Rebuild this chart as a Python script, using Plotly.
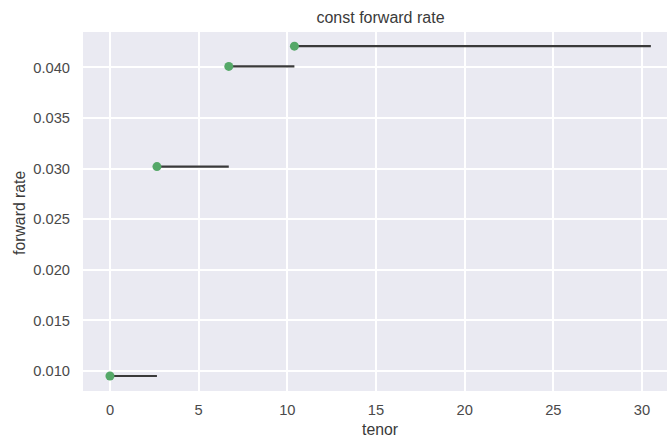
import plotly.graph_objects as go

# Piecewise-constant forward curve: start tenor of each period and its rate
tenors = [0.0, 2.65, 6.7, 10.4]
rates = [0.0095, 0.0302, 0.0401, 0.0421]
last_tenor = 30.5

x_ticks = [0, 5, 10, 15, 20, 25, 30]
y_ticks = [0.010, 0.015, 0.020, 0.025, 0.030, 0.035, 0.040]
y_tick_text = ["0.010", "0.015", "0.020", "0.025", "0.030", "0.035", "0.040"]

ends = tenors[1:] + [last_tenor]
seg_x, seg_y = [], []
for t0, t1, r in zip(tenors, ends, rates):
    seg_x += [t0, t1, None]
    seg_y += [r, r, None]

fig = go.Figure()
fig.add_trace(go.Scatter(
    x=seg_x, y=seg_y, mode="lines",
    line=dict(color="#3a3a3a", width=2.2),
    hoverinfo="skip", showlegend=False,
))
fig.add_trace(go.Scatter(
    x=tenors, y=rates, mode="markers",
    marker=dict(color="#55a868", size=9, line=dict(width=0)),
    showlegend=False,
))

font_family = "Liberation Sans, Arial, sans-serif"
fig.update_layout(
    width=667, height=439,
    margin=dict(l=83, r=0, t=32, b=48),
    paper_bgcolor="white",
    plot_bgcolor="#EAEAF2",
    font=dict(family=font_family, size=14.7, color="#4a4a4a"),
    title=dict(text="const forward rate", x=380.5 / 667, xref="container", xanchor="center",
               y=1 - 17 / 439, yref="container", yanchor="middle",
               font=dict(size=16, color="#3a3a3a")),
    showlegend=False,
)
fig.update_xaxes(
    range=[-1.52, 31.41],
    tickvals=x_ticks, ticktext=[str(v) for v in x_ticks],
    showgrid=True, gridcolor="white", gridwidth=1.5,
    zeroline=False, showline=False,
    ticks="outside", ticklen=5, tickcolor="rgba(0,0,0,0)",
)
fig.update_yaxes(
    range=[0.00802, 0.0435],
    tickvals=y_ticks, ticktext=y_tick_text,
    showgrid=True, gridcolor="white", gridwidth=1.5,
    zeroline=False, showline=False,
    ticks="outside", ticklen=9, tickcolor="rgba(0,0,0,0)",
)
fig.add_annotation(text="tenor", xref="paper", yref="paper",
                   x=(380 - 83) / 584, y=-(429 - 391) / 359,
                   xanchor="center", yanchor="middle", showarrow=False,
                   font=dict(size=15.8, color="#3a3a3a"))
fig.add_annotation(text="forward rate", xref="paper", yref="paper",
                   x=-(83 - 20) / 584, y=(391 - 213) / 359, textangle=-90,
                   xanchor="center", yanchor="middle", showarrow=False,
                   font=dict(size=15.8, color="#3a3a3a"))

fig.write_html("out.html")
